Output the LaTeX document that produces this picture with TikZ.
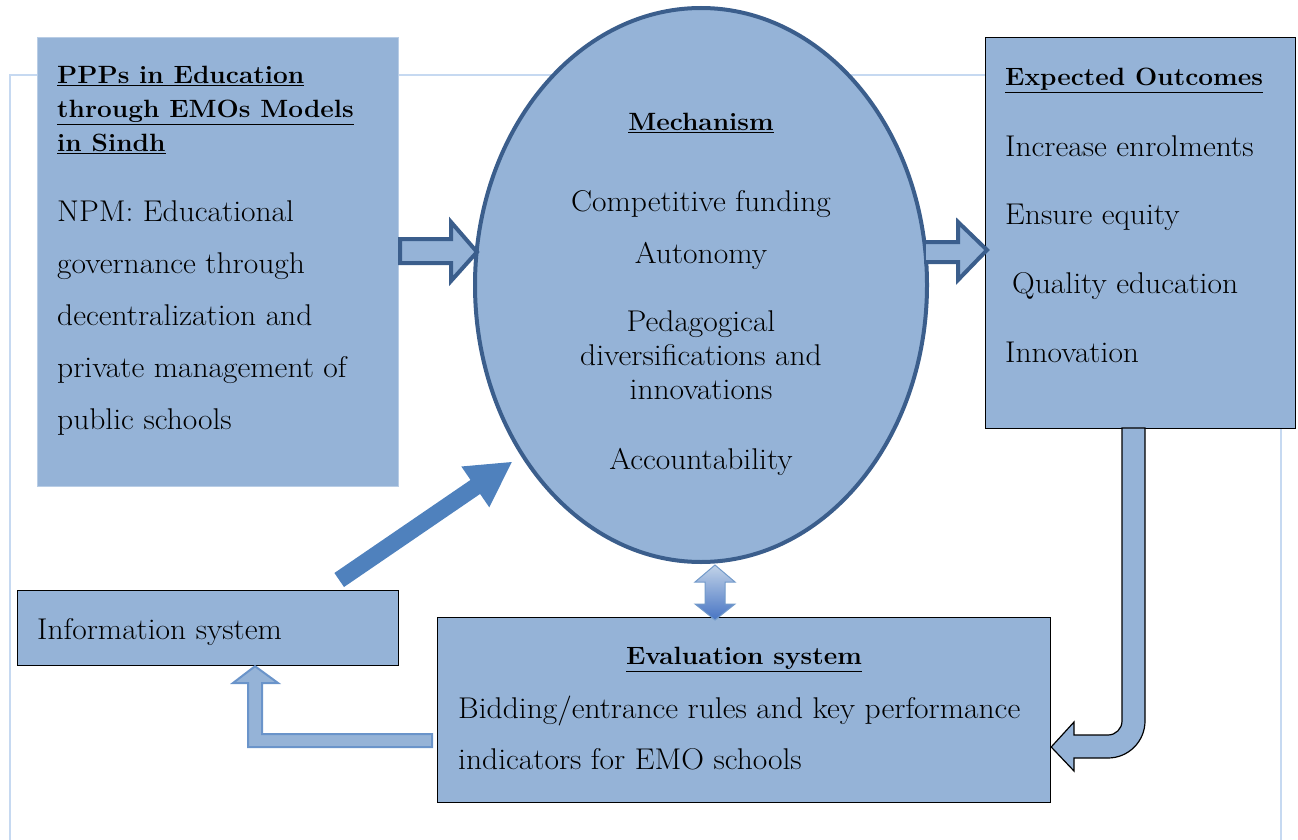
\documentclass[tikz,border=0pt]{standalone}
\usepackage{fontspec}
\setmainfont{Latin Modern Roman}[FakeStretch=1.05]
\usetikzlibrary{shapes.geometric,arrows.meta,calc}

\definecolor{boxfill}{HTML}{95B3D7}
\definecolor{boxedge}{HTML}{B9CDE5}
\definecolor{ringblue}{HTML}{3B5E8C}
\definecolor{arrowblue}{HTML}{4F81BD}
\definecolor{frameblue}{HTML}{C6D9F1}
\definecolor{bendedge}{HTML}{6A94CA}

\tikzset{
  panel/.style={rectangle, fill=boxfill, draw=black, line width=1.2,
    anchor=north west, inner sep=0},
  headtxt/.style={font=\fontsize{25}{34}\selectfont\bfseries,
    inner sep=0, align=left},
  bodytxt/.style={font=\fontsize{30}{52}\selectfont,
    inner sep=0, align=left},
  blockarrow/.style={fill=boxfill, draw=ringblue, line width=4,
    line join=miter},
}

\begin{document}
\begin{tikzpicture}[x=1pt,y=-1pt]
    \useasboundingbox (0,0) rectangle (1298,840);

    % light frame behind everything
    \draw[frameblue, line width=2] (10,840) -- (10,75) -- (1281,75) -- (1281,840);

    % left box
    \node[panel, draw=boxedge, minimum width=361, minimum height=449] (ppp) at (37,37) {};
    \node[headtxt, anchor=north west] (ppptitle) at (57,66)
      {\underline{PPPs in Education}\\\underline{through EMOs Models}\\\underline{in Sindh}};
    \node[bodytxt, anchor=north west] (pppbody) at (57,200)
      {NPM: Educational\\governance through\\decentralization and\\private management of\\public schools};

    % mechanism
    \node[ellipse, fill=boxfill, draw=ringblue, line width=4,
      minimum width=452, minimum height=554, inner sep=0] (mech) at (701,285) {};
    \node[headtxt, anchor=north] (mechtitle) at (701,113) {\underline{Mechanism}};
    \node[bodytxt, anchor=north] (fund) at (701,190) {Competitive funding};
    \node[bodytxt, anchor=north] (auto) at (701,242) {Autonomy};
    \node[bodytxt, anchor=north, align=center,
      font=\fontsize{30}{34}\selectfont] (peda) at (701,310)
      {Pedagogical\\diversifications and\\innovations};
    \node[bodytxt, anchor=north] (acc) at (701,448) {Accountability};

    % expected outcomes
    \node[panel, minimum width=310, minimum height=391] (outc) at (985,37) {};
    \node[headtxt, anchor=north west] (outctitle) at (1005,68) {\underline{Expected Outcomes}};
    \node[bodytxt, anchor=north west, font=\fontsize{30}{68.7}\selectfont] (outcbody) at (1005,135)
      {Increase enrolments\\Ensure equity\\\hspace{7pt}Quality education\\Innovation};

    % information system
    \node[panel, minimum width=381, minimum height=75] (info) at (17,590) {};
    \node[bodytxt, anchor=north west] (infotxt) at (37,618) {Information system};

    % evaluation system
    \node[panel, minimum width=613, minimum height=185] (eval) at (437,617) {};
    \node[headtxt, anchor=north] (evaltitle) at (744,647) {\underline{Evaluation system}};
    \node[bodytxt, anchor=north west, font=\fontsize{30}{51}\selectfont] (evalbody) at (458,696)
      {Bidding/entrance rules and key performance\\indicators for EMO schools};

    % block arrows
    \filldraw[blockarrow] (400,239) -- (451,239) -- (451,222) -- (477,252)
      -- (451,281) -- (451,263) -- (400,263) -- cycle;
    \fill[boxfill] (926,242) -- (958,242) -- (958,222) -- (987,250)
      -- (958,280) -- (958,262) -- (926,262) -- cycle;
    \draw[blockarrow, fill=none] (924,242) -- (958,242) -- (958,222) -- (987,250)
      -- (958,280) -- (958,262) -- (924,262);

    % mechanism <-> evaluation
    \coordinate (dtop) at ($(mech.south)+(14,1)$);
    \path[draw=arrowblue!80, line width=1, top color=arrowblue!35!white, bottom color=arrowblue!90!blue]
      (dtop) -- ++(20,17) -- ++(-10,0) -- ++(0,22) -- ++(10,0) -- ++(-20,16)
      -- ++(-20,-16) -- ++(10,0) -- ++(0,-22) -- ++(-10,0) -- cycle;

    % information -> mechanism
    \draw[arrowblue, line width=17, -{Triangle[width=46,length=45]}]
      ($(info.north east)+(-60,-10)$) -- ($(mech.225)+(-12,0)$);

    % outcomes -> evaluation
    \filldraw[fill=boxfill, draw=black, line width=1.2]
      (1122,428) -- (1122,721) arc (0:90:14) -- (1074,735) -- (1074,722)
      -- (eval.east |- 0,747) -- (1074,771) -- (1074,758) -- (1108,758)
      arc (90:0:37) -- (1145,428) -- cycle;

    % evaluation -> information
    \filldraw[fill=boxfill, draw=bendedge, line width=2]
      (432,734) -- (262,734) -- (262,683) -- (278,683) -- (info.south -| 255,0)
      -- (233,683) -- (248,683) -- (248,747) -- (432,747) -- cycle;
\end{tikzpicture}
\end{document}
